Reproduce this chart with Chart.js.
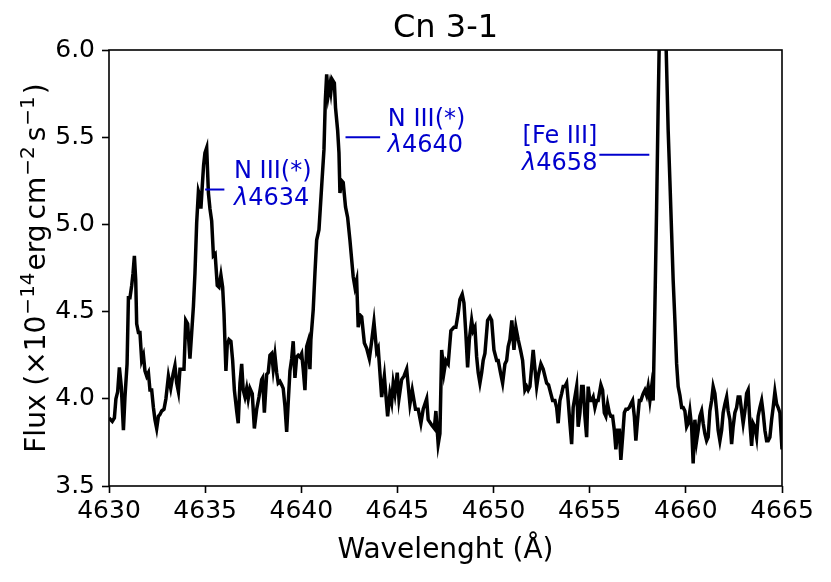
<!DOCTYPE html>
<html>
<head>
<meta charset="utf-8">
<script src="https://cdn.jsdelivr.net/npm/chart.js@4.4.1/dist/chart.umd.min.js"></script>
<style>
    html, body { margin: 0; padding: 0; background: #fff; }
    canvas { display: block; }
</style>
</head>
<body>
<canvas id="spectrumChart" width="831" height="582"></canvas>
<script>
// spectrum
const wavelength = [
    4630.00, 4630.17, 4630.28, 4630.36, 4630.45, 4630.54, 4630.64, 4630.75, 4630.83, 4630.94,
    4631.01, 4631.09, 4631.18, 4631.25, 4631.32, 4631.39, 4631.44, 4631.53, 4631.61, 4631.70,
    4631.79, 4631.87, 4631.96, 4632.05, 4632.13, 4632.22, 4632.31, 4632.39, 4632.48, 4632.57,
    4632.65, 4632.74, 4632.86, 4632.96, 4633.09, 4633.21, 4633.33, 4633.43, 4633.52, 4633.61,
    4633.69, 4633.81, 4633.90, 4633.99, 4634.09, 4634.21, 4634.30, 4634.39, 4634.47, 4634.56,
    4634.65, 4634.73, 4634.78, 4634.85, 4634.92, 4634.99, 4635.08, 4635.17, 4635.25, 4635.34,
    4635.43, 4635.52, 4635.63, 4635.72, 4635.82, 4635.91, 4635.98, 4636.08, 4636.15, 4636.24,
    4636.34, 4636.43, 4636.52, 4636.64, 4636.72, 4636.81, 4636.90, 4636.98, 4637.07, 4637.16,
    4637.24, 4637.33, 4637.45, 4637.56, 4637.68, 4637.80, 4637.94, 4637.99, 4638.08, 4638.20,
    4638.28, 4638.37, 4638.46, 4638.54, 4638.63, 4638.72, 4638.80, 4638.89, 4638.98, 4639.06,
    4639.15, 4639.24, 4639.32, 4639.41, 4639.50, 4639.58, 4639.67, 4639.76, 4639.84, 4639.93,
    4640.02, 4640.10, 4640.19, 4640.28, 4640.36, 4640.45, 4640.50, 4640.62, 4640.71, 4640.80,
    4640.92, 4641.06, 4641.18, 4641.25, 4641.32, 4641.40, 4641.49, 4641.54, 4641.61, 4641.72,
    4641.78, 4641.89, 4641.96, 4642.01, 4642.10, 4642.18, 4642.30, 4642.41, 4642.53, 4642.70,
    4642.79, 4642.88, 4642.96, 4643.05, 4643.14, 4643.28, 4643.40, 4643.54, 4643.66, 4643.78,
    4643.92, 4644.00, 4644.18, 4644.32, 4644.49, 4644.61, 4644.70, 4644.78, 4644.87, 4644.99,
    4645.08, 4645.22, 4645.34, 4645.48, 4645.65, 4645.77, 4645.94, 4646.08, 4646.22, 4646.34,
    4646.52, 4646.60, 4646.78, 4646.92, 4647.00, 4647.12, 4647.21, 4647.30, 4647.42, 4647.52,
    4647.64, 4647.78, 4647.94, 4648.04, 4648.16, 4648.25, 4648.37, 4648.46, 4648.56, 4648.65,
    4648.74, 4648.86, 4648.94, 4649.03, 4649.12, 4649.20, 4649.29, 4649.38, 4649.46, 4649.55,
    4649.69, 4649.81, 4649.90, 4650.02, 4650.16, 4650.24, 4650.36, 4650.47, 4650.59, 4650.68,
    4650.76, 4650.85, 4650.95, 4651.06, 4651.16, 4651.28, 4651.40, 4651.51, 4651.63, 4651.72,
    4651.80, 4651.89, 4652.06, 4652.24, 4652.32, 4652.46, 4652.58, 4652.76, 4652.86, 4652.93,
    4653.07, 4653.19, 4653.28, 4653.36, 4653.45, 4653.54, 4653.62, 4653.71, 4653.80, 4653.88,
    4653.97, 4654.06, 4654.14, 4654.23, 4654.32, 4654.40, 4654.49, 4654.58, 4654.66, 4654.75,
    4654.84, 4654.92, 4655.01, 4655.10, 4655.18, 4655.27, 4655.36, 4655.44, 4655.58, 4655.67,
    4655.76, 4655.84, 4655.93, 4656.02, 4656.10, 4656.19, 4656.28, 4656.36, 4656.45, 4656.54,
    4656.62, 4656.71, 4656.80, 4656.88, 4656.97, 4657.06, 4657.14, 4657.23, 4657.32, 4657.40,
    4657.49, 4657.58, 4657.66, 4657.78, 4657.87, 4657.96, 4658.04, 4658.13, 4658.22, 4658.30,
    4658.39, 4658.48, 4658.56, 4658.65, 4658.74, 4658.83, 4658.92, 4659.00, 4659.08, 4659.17,
    4659.26, 4659.34, 4659.43, 4659.52, 4659.60, 4659.69, 4659.78, 4659.86, 4659.95, 4660.04,
    4660.12, 4660.21, 4660.30, 4660.38, 4660.47, 4660.56, 4660.64, 4660.73, 4660.82, 4660.90,
    4660.99, 4661.08, 4661.16, 4661.25, 4661.34, 4661.42, 4661.51, 4661.60, 4661.68, 4661.77,
    4661.86, 4661.94, 4662.03, 4662.12, 4662.20, 4662.29, 4662.38, 4662.46, 4662.55, 4662.64,
    4662.72, 4662.81, 4662.90, 4662.98, 4663.07, 4663.16, 4663.24, 4663.33, 4663.42, 4663.50,
    4663.59, 4663.68, 4663.76, 4663.85, 4663.94, 4664.02, 4664.11, 4664.20, 4664.28, 4664.37,
    4664.46, 4664.54, 4664.63, 4664.72, 4664.80, 4664.89, 4665.00
];
const flux = [
    3.89, 3.87, 3.89, 4.00, 4.04, 4.18, 4.07, 3.82, 4.01, 4.20,
    4.58, 4.58, 4.65, 4.72, 4.82, 4.68, 4.43, 4.38, 4.38, 4.22,
    4.25, 4.16, 4.13, 4.15, 4.05, 4.05, 3.95, 3.88, 3.83, 3.90,
    3.91, 3.93, 3.94, 4.00, 4.13, 4.06, 4.14, 4.19, 4.09, 4.04,
    4.17, 4.17, 4.17, 4.45, 4.43, 4.23, 4.38, 4.53, 4.72, 5.01,
    5.19, 5.16, 5.09, 5.22, 5.34, 5.41, 5.44, 5.18, 5.09, 5.02,
    4.82, 4.83, 4.65, 4.64, 4.71, 4.64, 4.49, 4.16, 4.31, 4.34,
    4.33, 4.22, 4.05, 3.93, 3.86, 4.09, 4.20, 4.05, 4.01, 4.06,
    4.00, 4.06, 4.03, 3.83, 3.94, 4.01, 4.11, 4.12, 3.92, 4.14,
    4.15, 4.25, 4.26, 4.17, 4.25, 4.15, 4.09, 4.10, 4.08, 4.06,
    3.96, 3.81, 3.98, 4.16, 4.23, 4.33, 4.12, 4.24, 4.25, 4.24,
    4.26, 4.17, 4.05, 4.30, 4.33, 4.17, 4.34, 4.51, 4.72, 4.91,
    4.97, 5.22, 5.43, 5.71, 5.86, 5.74, 5.80, 5.76, 5.83, 5.81,
    5.67, 5.54, 5.41, 5.18, 5.25, 5.24, 5.10, 5.04, 4.91, 4.70,
    4.64, 4.68, 4.41, 4.48, 4.47, 4.32, 4.29, 4.23, 4.33, 4.44,
    4.27, 4.29, 4.01, 4.13, 3.90, 4.03, 3.98, 4.09, 4.03, 4.15,
    4.00, 4.11, 4.13, 4.17, 3.97, 4.05, 3.94, 3.94, 3.86, 3.94,
    4.00, 3.88, 3.85, 3.83, 3.93, 3.74, 3.80, 4.28, 4.15, 4.22,
    4.20, 4.39, 4.41, 4.41, 4.49, 4.57, 4.60, 4.55, 4.37, 4.18,
    4.34, 4.45, 4.39, 4.41, 4.24, 4.15, 4.09, 4.15, 4.22, 4.26,
    4.45, 4.47, 4.45, 4.28, 4.22, 4.22, 4.15, 4.09, 4.20, 4.22,
    4.30, 4.34, 4.45, 4.28, 4.41, 4.34, 4.28, 4.22, 4.05, 4.07,
    4.05, 4.07, 4.28, 4.07, 4.13, 4.20, 4.17, 4.09, 4.08, 4.05,
    3.99, 3.99, 3.95, 3.86, 3.99, 4.03, 4.07, 4.07, 4.09, 3.99,
    3.86, 3.74, 3.95, 4.01, 4.07, 3.84, 3.92, 4.07, 4.07, 3.90,
    3.78, 4.07, 3.99, 3.99, 4.01, 3.95, 3.99, 3.99, 4.08, 4.05,
    3.92, 3.90, 3.97, 3.92, 3.90, 3.90, 3.82, 3.71, 3.82, 3.82,
    3.65, 3.78, 3.92, 3.94, 3.94, 3.95, 3.97, 3.99, 3.90, 3.76,
    3.88, 3.99, 3.99, 4.03, 4.05, 4.02, 4.07, 3.99, 4.07, 3.99,
    4.53, 5.10, 5.68, 6.25, 6.90, 6.80, 6.25, 5.90, 5.54, 5.25,
    4.95, 4.68, 4.45, 4.20, 4.07, 4.02, 3.95, 3.95, 3.93, 3.84,
    3.86, 3.93, 3.84, 3.63, 3.88, 3.76, 3.82, 3.90, 3.93, 3.86,
    3.80, 3.76, 3.78, 3.93, 3.99, 4.07, 4.03, 3.93, 3.82, 3.76,
    3.82, 3.92, 3.97, 4.01, 3.93, 3.88, 3.74, 3.84, 3.92, 3.95,
    4.01, 4.01, 3.93, 3.86, 3.93, 4.03, 4.05, 3.86, 3.73, 3.86,
    3.84, 3.78, 3.90, 3.95, 3.99, 3.92, 3.82, 3.76, 3.76, 3.78,
    3.88, 3.95, 4.04, 3.97, 3.95, 3.92, 3.71
];

const xTickValues = [4630, 4635, 4640, 4645, 4650, 4655, 4660, 4665];
const yTickValues = [3.5, 4.0, 4.5, 5.0, 5.5, 6.0];

const lineNames = ['N III(*)', 'N III(*)', '[Fe III]'];
const lineIds = ['4634', '4640', '4658'];

const FONT = "'DejaVu Sans', sans-serif";
const LABEL_BLUE = '#0000cd';

// marker segment (x0..x1 at level) and text anchor for each line id
const labelPlacement = [
    { x0: 4635.0, x1: 4636.0, level: 5.2, tx: 4636.5, align: 'left' },
    { x0: 4642.3, x1: 4644.1, level: 5.5, tx: 4644.5, align: 'left' },
    { x0: 4655.5, x1: 4658.1, level: 5.4, tx: 4655.4, align: 'right' }
];

function drawYTitle(ctx, cx, cy) {
    const size = 28;
    const supSize = 20;
    const parts = [
        { t: 'Flux (', sup: false, gap: 0 },
        { t: '×10', sup: false, gap: 0 },
        { t: '−14', sup: true, gap: 1 },
        { t: 'erg', sup: false, gap: 2 },
        { t: 'cm', sup: false, gap: 5 },
        { t: '−2', sup: true, gap: 1 },
        { t: 's', sup: false, gap: 5 },
        { t: '−1', sup: true, gap: 1 },
        { t: ')', sup: false, gap: 2 }
    ];
    let total = 0;
    parts.forEach(p => {
        ctx.font = `${p.sup ? supSize : size}px ${FONT}`;
        p.w = ctx.measureText(p.t).width;
        total += p.gap + p.w;
    });
    ctx.save();
    ctx.translate(cx, cy);
    ctx.rotate(-Math.PI / 2);
    ctx.fillStyle = '#000';
    ctx.textAlign = 'left';
    ctx.textBaseline = 'alphabetic';
    let pos = -total / 2;
    parts.forEach(p => {
        pos += p.gap;
        ctx.font = `${p.sup ? supSize : size}px ${FONT}`;
        ctx.fillText(p.t, pos, p.sup ? -2 : 9);
        pos += p.w;
    });
    ctx.restore();
}

const decorations = {
    id: 'decorations',
    afterDraw(chart) {
        const { ctx, chartArea: area, scales } = chart;
        const x = scales.x;
        const y = scales.y;
        ctx.save();

        ctx.strokeStyle = '#000';
        ctx.lineWidth = 1.6;
        ctx.strokeRect(area.left, area.top, area.right - area.left, area.bottom - area.top);

        labelPlacement.forEach((p, i) => {
            const py = y.getPixelForValue(p.level);
            ctx.strokeStyle = LABEL_BLUE;
            ctx.lineWidth = 2;
            ctx.beginPath();
            ctx.moveTo(x.getPixelForValue(p.x0), py);
            ctx.lineTo(x.getPixelForValue(p.x1), py);
            ctx.stroke();

            const tx = x.getPixelForValue(p.tx);
            ctx.fillStyle = LABEL_BLUE;
            ctx.textBaseline = 'middle';
            ctx.font = `24px ${FONT}`;
            ctx.textAlign = p.align;
            ctx.fillText(lineNames[i], tx, py - 17.5);

            ctx.font = `italic 24px ${FONT}`;
            const lamW = ctx.measureText('λ').width;
            ctx.font = `24px ${FONT}`;
            const numW = ctx.measureText(lineIds[i]).width;
            const start = p.align === 'left' ? tx : tx - lamW - numW;
            ctx.textAlign = 'left';
            ctx.font = `italic 24px ${FONT}`;
            ctx.fillText('λ', start, py + 9);
            ctx.font = `24px ${FONT}`;
            ctx.fillText(lineIds[i], start + lamW, py + 9);
        });

        drawYTitle(ctx, 36, (area.top + area.bottom) / 2);
        ctx.restore();
    }
};

const tickGrid = {
    display: true,
    drawOnChartArea: false,
    drawTicks: true,
    tickLength: 7,
    tickWidth: 1.6,
    color: '#000'
};

new Chart(document.getElementById('spectrumChart'), {
    type: 'line',
    data: {
        datasets: [{
            data: wavelength.map((w, i) => ({ x: w, y: flux[i] })),
            borderColor: '#000',
            borderWidth: 3.5,
            pointRadius: 0,
            tension: 0,
            fill: false,
            clip: 0
        }]
    },
    options: {
        responsive: false,
        animation: false,
        layout: { padding: { left: 0, right: 49, top: 0, bottom: 0 } },
        plugins: {
            legend: { display: false },
            tooltip: { enabled: false },
            title: {
                display: true,
                text: 'Cn 3-1',
                color: '#000',
                fullSize: false,
                font: { family: FONT, size: 32, weight: 'normal', lineHeight: 1.2 },
                padding: { top: 9, bottom: 2.6 }
            }
        },
        scales: {
            x: {
                type: 'linear',
                min: 4630,
                max: 4665,
                afterFit: s => { s.height = 96; },
                afterBuildTicks: s => { s.ticks = xTickValues.map(v => ({ value: v })); },
                grid: tickGrid,
                border: { display: false },
                ticks: {
                    color: '#000',
                    font: { family: FONT, size: 25 },
                    padding: 3,
                    maxRotation: 0,
                    autoSkip: false,
                    callback: v => String(v)
                },
                title: {
                    display: true,
                    text: 'Wavelenght (Å)',
                    color: '#000',
                    font: { family: FONT, size: 28, lineHeight: 1.2 },
                    padding: { top: 0, bottom: 14 }
                }
            },
            y: {
                min: 3.5,
                max: 6.0,
                afterFit: s => { s.width = 109; },
                afterBuildTicks: s => { s.ticks = yTickValues.map(v => ({ value: v })); },
                grid: tickGrid,
                border: { display: false },
                ticks: {
                    color: '#000',
                    font: { family: FONT, size: 25 },
                    padding: 7,
                    autoSkip: false,
                    callback: v => v.toFixed(1)
                }
            }
        }
    },
    plugins: [decorations]
});
</script>
</body>
</html>
